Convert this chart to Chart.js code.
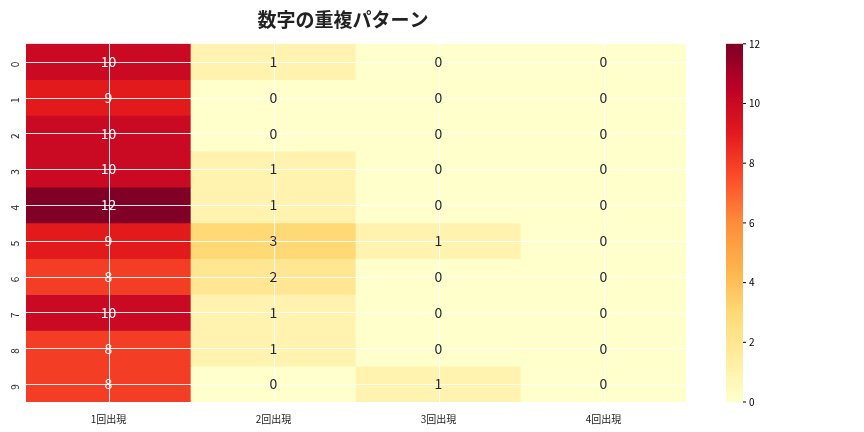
<!DOCTYPE html>
<html><head><meta charset="utf-8">
<script src="https://cdn.jsdelivr.net/npm/chart.js@4"></script>
<style>body{margin:0;background:#fff}#wrap{width:864px;height:432px}</style>
</head><body><div id="wrap"><canvas id="c"></canvas></div>
<script>
const columns = ['1回出現', '2回出現', '3回出現', '4回出現'];
const rowLabels = ['0','1','2','3','4','5','6','7','8','9'];
const counts = [
  [10,1,0,0],[9,0,0,0],[10,0,0,0],[10,1,0,0],[12,1,0,0],
  [9,3,1,0],[8,2,0,0],[10,1,0,0],[8,1,0,0],[8,0,1,0]
];
const vmax = 12;
const barTicks = [0,2,4,6,8,10,12];

const stops = ['#ffffcc','#ffeda0','#fed976','#feb24c','#fd8d3c','#fc4e2a','#e31a1c','#bd0026','#800026']
  .map(h => [1,3,5].map(i => parseInt(h.substr(i,2),16)));
function cmap(v){
  const t = Math.max(0, Math.min(1, v / vmax)) * (stops.length - 1);
  const i = Math.min(stops.length - 2, Math.floor(t)), f = t - i;
  const c = stops[i].map((a,k) => Math.round(a + (stops[i+1][k]-a)*f));
  return c;
}
const rgb = c => `rgb(${c[0]},${c[1]},${c[2]})`;
const font = '"Noto Sans CJK JP","DejaVu Sans",sans-serif';

const datasets = rowLabels.map((r, ri) => ({
  label: r,
  data: columns.map(() => 1),
  backgroundColor: counts[ri].map(v => rgb(cmap(v))),
  borderWidth: 0,
  barPercentage: 1, categoryPercentage: 1
}));

const overlay = {
  id: 'overlay',
  afterDatasetsDraw(chart){
    const {ctx, chartArea: a, scales: {x, y}} = chart;
    ctx.save();
    ctx.strokeStyle = 'rgba(255,255,255,0.9)'; ctx.lineWidth = 1;
    rowLabels.forEach((r, ri) => {
      const py = Math.round(y.getPixelForValue(ri + 0.5)) + 0.5;
      ctx.beginPath(); ctx.moveTo(a.left, py); ctx.lineTo(a.right, py); ctx.stroke();
    });
    columns.forEach((c, ci) => {
      const px = Math.round(x.getPixelForValue(ci)) + 0.5;
      ctx.beginPath(); ctx.moveTo(px, a.top); ctx.lineTo(px, a.bottom); ctx.stroke();
    });
    ctx.font = '14px ' + font; ctx.textAlign = 'center'; ctx.textBaseline = 'middle';
    counts.forEach((row, ri) => row.forEach((v, ci) => {
      const c = cmap(v);
      const lum = (0.299*c[0] + 0.587*c[1] + 0.114*c[2]) / 255;
      ctx.fillStyle = lum < 0.6 ? '#fff' : '#262626';
      ctx.fillText(String(v), x.getPixelForValue(ci), y.getPixelForValue(ri + 0.5));
    }));
    // colorbar
    const bx = 726, bw = 17, top = a.top, bot = a.bottom;
    const g = ctx.createLinearGradient(0, bot, 0, top);
    for (let k = 0; k <= 24; k++) g.addColorStop(k/24, rgb(cmap(vmax*k/24)));
    ctx.fillStyle = g; ctx.fillRect(bx, top, bw, bot - top);
    ctx.fillStyle = '#000'; ctx.strokeStyle = '#000';
    ctx.font = '10px ' + font; ctx.textAlign = 'left';
    barTicks.forEach(t => {
      const py = bot - (bot - top) * t / vmax;
      ctx.beginPath(); ctx.moveTo(bx + bw, py); ctx.lineTo(bx + bw + 3, py); ctx.stroke();
      ctx.fillText(String(t), bx + bw + 6, py);
    });
    ctx.restore();
  }
};

new Chart(document.getElementById('c'), {
  type: 'bar',
  data: { labels: columns, datasets },
  options: {
    responsive: true, maintainAspectRatio: false, animation: false,
    layout: { padding: { left: 0, right: 178, top: 0, bottom: 4 } },
    plugins: {
      legend: { display: false }, tooltip: { enabled: false },
      title: { display: true, text: '数字の重複パターン', color: '#222',
        font: { family: font, size: 19, weight: 'bold' }, padding: { top: 8, bottom: 13 } }
    },
    scales: {
      x: { stacked: true, grid: { display: false }, border: { display: false },
        ticks: { color: '#222', font: { family: font, size: 10 } } },
      y: { stacked: true, reverse: true, min: 0, max: 10,
        grid: { display: false }, border: { display: false },
        afterBuildTicks: s => { s.ticks = rowLabels.map((r, i) => ({ value: i + 0.5 })); },
        ticks: { color: '#222', font: { family: font, size: 10 }, minRotation: 90, maxRotation: 90,
          callback: (v, i) => rowLabels[i] } }
    }
  },
  plugins: [overlay]
});
</script></body></html>
